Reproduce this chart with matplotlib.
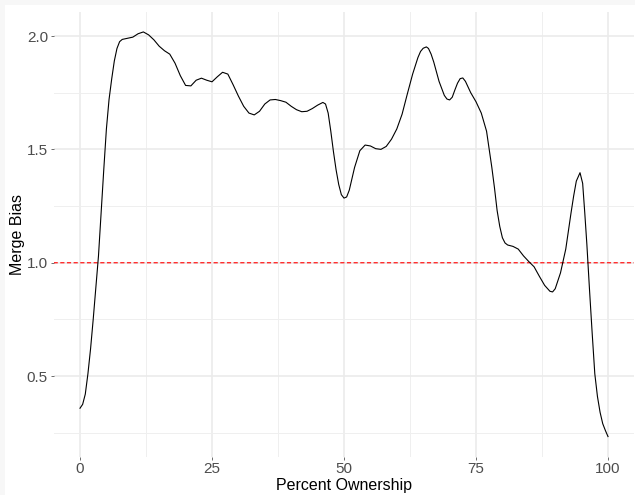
import matplotlib
matplotlib.use("Agg")
import matplotlib.pyplot as plt
from matplotlib.patches import Rectangle

# Smoothed merge bias by percent ownership
ownership = [0, 0.5, 1, 1.5, 2, 2.5, 3, 3.5, 4, 4.5, 5, 5.5, 6, 6.5, 7, 7.5, 8, 9, 10,
             11, 12, 13, 14, 15, 16, 17, 18, 19, 20, 21, 22, 23, 24, 25, 26, 27,
             28, 29, 30, 31, 32, 33, 34, 35, 36, 37, 38, 39, 40, 41, 42, 43, 44,
             45, 46, 46.5, 47, 47.5, 48, 48.5, 49, 49.5, 50, 50.5, 51, 51.5, 52,
             53, 54, 55, 56, 57, 58, 59, 60, 61, 62, 63, 64, 64.5, 65, 65.6, 66,
             66.5, 67, 68, 69, 69.5, 70, 70.5, 71, 71.5, 72, 72.5, 73, 74, 75,
             76, 77, 77.5, 78, 78.5, 79, 79.5, 80, 80.5, 81, 82, 83, 84, 85, 86,
             87, 88, 89, 89.5, 90, 91, 92, 93, 93.5, 94, 94.7, 95.2, 95.6, 96,
             96.5, 97, 97.5, 98, 98.5, 99, 99.5, 100]
merge_bias = [0.358, 0.375, 0.42, 0.51, 0.62, 0.75, 0.89, 1.03, 1.22, 1.41, 1.59,
              1.72, 1.81, 1.89, 1.945, 1.975, 1.985, 1.99, 1.995,
              2.010, 2.018, 2.005, 1.983, 1.955, 1.935, 1.92, 1.88, 1.825, 1.782,
              1.780, 1.805, 1.814, 1.805, 1.798, 1.82, 1.84, 1.832, 1.785, 1.735,
              1.69, 1.66, 1.652, 1.668, 1.70, 1.718, 1.72, 1.715, 1.708, 1.69,
              1.675, 1.666, 1.668, 1.68, 1.695, 1.707, 1.70, 1.66, 1.58, 1.49,
              1.41, 1.345, 1.30, 1.285, 1.29, 1.32, 1.37, 1.42, 1.494, 1.519,
              1.515, 1.503, 1.50, 1.513, 1.545, 1.59, 1.655, 1.745, 1.832, 1.905,
              1.932, 1.946, 1.952, 1.945, 1.92, 1.885, 1.80, 1.738, 1.722, 1.718,
              1.73, 1.762, 1.792, 1.812, 1.815, 1.80, 1.75, 1.71, 1.66, 1.58,
              1.50, 1.42, 1.33, 1.23, 1.16, 1.11, 1.087, 1.078, 1.072, 1.06,
              1.03, 1.005, 0.982, 0.94, 0.90, 0.874, 0.871, 0.885, 0.955, 1.06,
              1.22, 1.295, 1.36, 1.397, 1.35, 1.22, 1.08, 0.88, 0.69, 0.51,
              0.41, 0.34, 0.29, 0.26, 0.233]
reference_level = 1.0

x_breaks = [0, 25, 50, 75, 100]
y_breaks = [0.5, 1.0, 1.5, 2.0]
x_minor = [12.5, 37.5, 62.5, 87.5]
y_minor = [0.25, 0.75, 1.25, 1.75]

plt.rcParams["font.family"] = ["Liberation Sans", "DejaVu Sans"]

W, H = 635, 495
fig = plt.figure(figsize=(W / 100, H / 100), dpi=100, facecolor="#F7F7F7")
fig.patches.append(Rectangle((5 / W, 0), 1 - 5 / W, 1 - 5 / H,
                             transform=fig.transFigure, facecolor="white",
                             edgecolor="none", zorder=-1))

left, right, top, bottom = 53.6, 634.4, 11.7, 456.8
ax = fig.add_axes([left / W, 1 - bottom / H, (right - left) / W, (bottom - top) / H])
ax.set_facecolor("white")

# ggplot-style 5% expansion of the data range
xlo, xhi = min(ownership), max(ownership)
ylo, yhi = min(merge_bias), max(merge_bias)
xr, yr = xhi - xlo, yhi - ylo
ax.set_xlim(xlo - 0.05 * xr, xhi + 0.05 * xr)
ax.set_ylim(ylo - 0.05 * yr, yhi + 0.05 * yr)

ax.set_xticks(x_breaks)
ax.set_xticklabels([f"{v:g}" for v in x_breaks])
ax.set_yticks(y_breaks)
ax.set_yticklabels([f"{v:.1f}" for v in y_breaks])
ax.set_xticks(x_minor, minor=True)
ax.set_yticks(y_minor, minor=True)

ax.grid(which="major", color="#EBEBEB", linewidth=1.2)
ax.grid(which="minor", color="#EFEFEF", linewidth=0.7)
ax.set_axisbelow(True)
for s in ax.spines.values():
    s.set_visible(False)

ax.tick_params(which="major", length=2.5, width=0.5, color="#333333",
               labelcolor="#4D4D4D", labelsize=11, pad=1.6)
ax.tick_params(which="minor", length=0)

ax.plot(ownership, merge_bias, color="black", linewidth=0.8, zorder=3,
        solid_joinstyle="round")
ax.axhline(reference_level, color="#FF3030", linewidth=1.0, dashes=(3.0, 1.8),
           zorder=2, snap=False)

ax.set_xlabel("Percent Ownership", fontsize=11.5, color="black", labelpad=1.3)
ax.set_ylabel("Merge Bias", fontsize=11.5, color="black", labelpad=1.5)

fig.savefig("out.png", dpi=100, facecolor=fig.get_facecolor())
